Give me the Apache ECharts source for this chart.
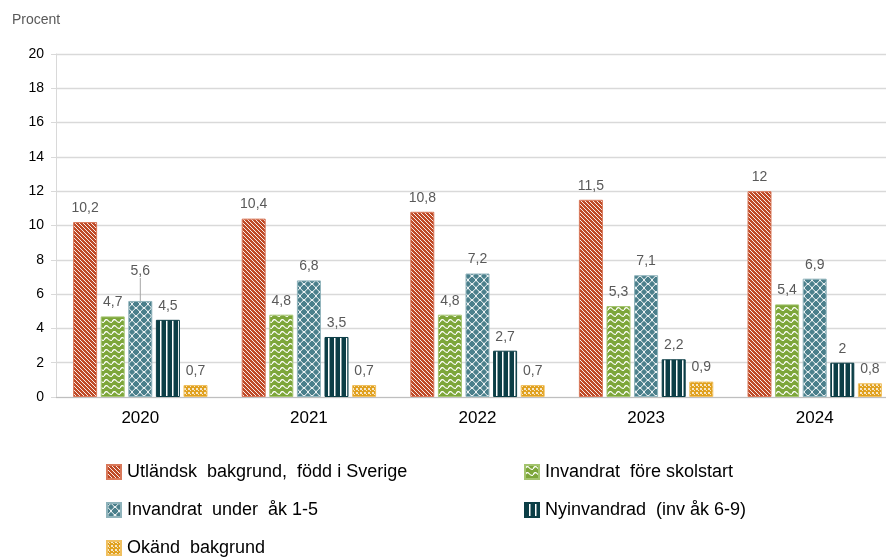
<!DOCTYPE html>
<html>
<head>
<meta charset="utf-8">
<script src="https://cdn.jsdelivr.net/npm/echarts@6/dist/echarts.min.js"></script>
<style>
  html, body { margin: 0; padding: 0; background: #fff; }
  #chart { width: 886px; height: 560px; }
</style>
</head>
<body>
<div id="chart"></div>
<script>
const years = ['2020', '2021', '2022', '2023', '2024'];
const seriesNames = [
  'Utländsk  bakgrund,  född i Sverige',
  'Invandrat  före skolstart',
  'Invandrat  under  åk 1-5',
  'Nyinvandrad  (inv åk 6-9)',
  'Okänd  bakgrund'
];
const utlandsk = [10.2, 10.4, 10.8, 11.5, 12];
const foreSkolstart = [4.7, 4.8, 4.8, 5.3, 5.4];
const underAk15 = [5.6, 6.8, 7.2, 7.1, 6.9];
const nyinvandrad = [4.5, 3.5, 2.7, 2.2, 2];
const okand = [0.7, 0.7, 0.7, 0.9, 0.8];
const yTicks = [0, 2, 4, 6, 8, 10, 12, 14, 16, 18, 20];

// small canvas tiles used as bar fill patterns
function tile(w, h, bg, draw) {
  const c = document.createElement('canvas');
  c.width = w; c.height = h;
  const ctx = c.getContext('2d');
  ctx.fillStyle = bg;
  ctx.fillRect(0, 0, w, h);
  ctx.strokeStyle = '#ffffff';
  ctx.fillStyle = '#ffffff';
  draw(ctx);
  return c;
}

const redTile = tile(4, 4, '#bf4a26', ctx => {
  ctx.lineWidth = 0.9;
  ctx.beginPath();
  ctx.moveTo(-1, -1); ctx.lineTo(5, 5);
  ctx.moveTo(-1, 3); ctx.lineTo(1, 5);
  ctx.moveTo(3, -1); ctx.lineTo(5, 1);
  ctx.stroke();
});
const greenTile = tile(8, 6, '#7da63a', ctx => {
  ctx.lineWidth = 1.2;
  ctx.beginPath();
  ctx.moveTo(0, 4);
  ctx.quadraticCurveTo(2, 0, 4, 2.5);
  ctx.quadraticCurveTo(6, 5, 8, 4);
  ctx.stroke();
});
const tealTile = tile(8, 8, '#4a7f8b', ctx => {
  ctx.lineWidth = 1;
  ctx.beginPath();
  ctx.moveTo(4, 0); ctx.quadraticCurveTo(6, 3, 8, 4);
  ctx.moveTo(8, 4); ctx.quadraticCurveTo(6, 5, 4, 8);
  ctx.moveTo(4, 8); ctx.quadraticCurveTo(2, 5, 0, 4);
  ctx.moveTo(0, 4); ctx.quadraticCurveTo(2, 3, 4, 0);
  ctx.stroke();
});
const darkTile = tile(6, 4, '#0c3e46', ctx => {
  ctx.fillRect(4, 0, 1.5, 4);
});
const yellowTile = tile(4, 4, '#e0a120', ctx => {
  ctx.fillStyle = 'rgba(255,255,255,0.75)';
  ctx.fillRect(0, 0, 2, 2);
  ctx.fillRect(2, 2, 1, 1);
});

const fills = [redTile, greenTile, tealTile, darkTile, yellowTile];
const borders = ['#d9785a', '#a3c46e', '#8fb3bb', '#0c3e46', '#f0c060'];
const values = [utlandsk, foreSkolstart, underAk15, nyinvandrad, okand];

function fmt(v) {
  return String(v).replace('.', ',');
}

const series = values.map((data, i) => ({
  name: seriesNames[i],
  type: 'bar',
  // only the lifted 2020 label of "Invandrat under åk 1-5" keeps its leader line
  data: data.map((v, j) => (i === 2 && j !== 0
    ? { value: v, labelLine: { show: false } }
    : v)),
  barWidth: 24,
  barGap: '15%',
  itemStyle: {
    color: { image: fills[i], repeat: 'repeat' },
    borderColor: borders[i],
    borderWidth: 1
  },
  label: {
    show: true,
    position: 'top',
    distance: 7,
    color: '#595959',
    fontFamily: 'Liberation Sans, Arial, sans-serif',
    fontSize: 14,
    formatter: p => fmt(p.value)
  },
  labelLine: {
    show: i === 2,
    lineStyle: { color: '#a6a6a6', width: 1 }
  },
  labelLayout: params => (i === 2 && params.dataIndex === 0 ? { dy: -16 } : {})
}));

// one legend per entry, laid out as the two columns of the original
const legendPos = [[106, 463], [524, 463], [106, 501], [524, 501], [106, 539]];
const legends = seriesNames.map((name, i) => ({
  data: [name],
  left: legendPos[i][0],
  top: legendPos[i][1],
  padding: 0,
  itemWidth: 14,
  itemHeight: 14,
  icon: 'rect',
  textStyle: { fontSize: 18, lineHeight: 18, color: '#000', padding: [0, 0, 0, 1] }
}));

const chart = echarts.init(document.getElementById('chart'));
chart.setOption({
  animation: false,
  textStyle: { fontFamily: 'Liberation Sans, Arial, sans-serif' },
  graphic: [{
    type: 'text',
    left: 12,
    top: 13,
    style: { text: 'Procent', fontSize: 14, fill: '#595959', fontFamily: 'Liberation Sans, Arial, sans-serif' }
  }],
  legend: legends,
  grid: { left: 56, top: 54, width: 843, height: 343, outerBoundsMode: 'none', containLabel: false },
  xAxis: {
    type: 'category',
    data: years,
    axisLine: { lineStyle: { color: '#bfbfbf' } },
    axisTick: { show: false },
    axisLabel: { color: '#000', fontSize: 17, margin: 13 }
  },
  yAxis: {
    type: 'value',
    min: yTicks[0],
    max: yTicks[yTicks.length - 1],
    interval: 2,
    axisLine: { show: true, lineStyle: { color: '#d9d9d9' } },
    axisTick: { show: true, length: 5, lineStyle: { color: '#d9d9d9' } },
    axisLabel: { color: '#000', fontSize: 14, margin: 12 },
    splitLine: { lineStyle: { color: '#d9d9d9', width: 1.3 } }
  },
  series: series
});
</script>
</body>
</html>
